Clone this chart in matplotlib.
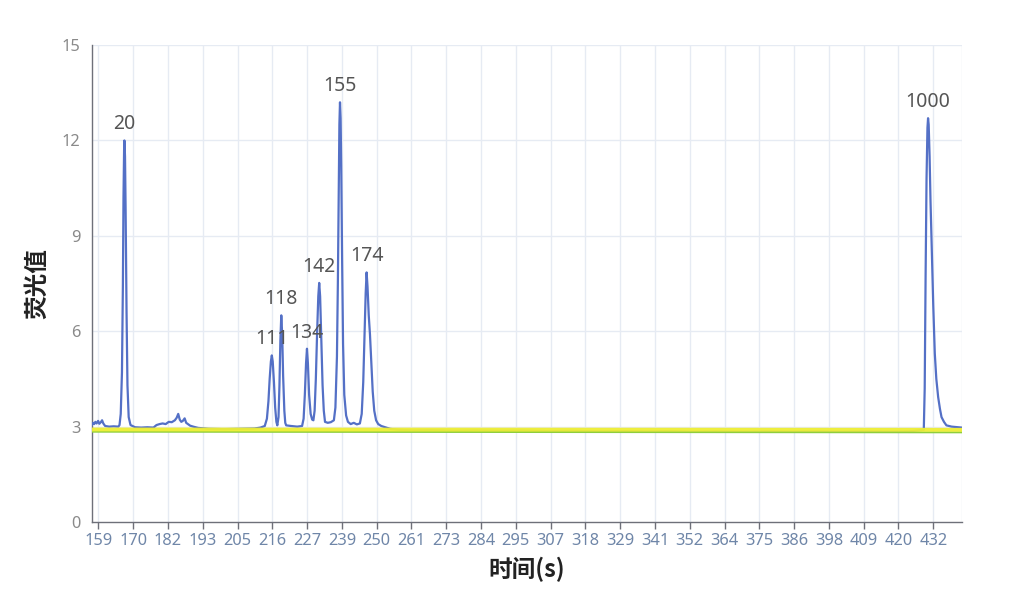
import matplotlib
matplotlib.use("Agg")
import matplotlib.pyplot as plt
import numpy as np

# ---------------- data ----------------
x_tick_labels = ["159", "170", "182", "193", "205", "216", "227", "239", "250", "261",
                 "273", "284", "295", "307", "318", "329", "341", "352", "364", "375",
                 "386", "398", "409", "420", "432"]
x_first_tick = 159.0
x_last_tick = 432.0
x_min, x_max = 156.8, 441.3
y_ticks = [0, 3, 6, 9, 12, 15]

signal_time = [
    156.8, 157.2, 157.6, 158.0, 158.4, 158.9, 159.3, 159.8, 160.2, 160.6,
    161.2, 162.5, 164.0, 165.5, 165.9, 166.3, 166.7, 167.0, 167.2, 167.4,
    167.5, 167.7, 167.9, 168.2, 168.5, 168.9, 169.5, 171.0, 173.0, 175.0,
    177.0, 178.0, 179.0, 180.0, 181.0, 182.0, 183.0, 184.0, 184.6, 185.1,
    185.6, 186.1, 186.6, 187.2, 187.7, 188.3, 189.0, 190.0, 191.6, 195.0,
    200.0, 205.0, 210.0, 212.0, 213.4, 214.1, 214.6, 215.0, 215.4, 215.7,
    216.0, 216.4, 216.8, 217.2, 217.5, 217.9, 218.2, 218.5, 218.8, 219.1,
    219.4, 219.8, 220.1, 220.4, 222.0, 224.0, 225.6, 226.1, 226.5, 226.9,
    227.2, 227.5, 227.9, 228.4, 228.9, 229.3, 229.7, 230.1, 230.5, 230.9,
    231.2, 231.5, 231.9, 232.3, 232.7, 233.1, 234.0, 235.0, 236.0, 236.5,
    237.0, 237.3, 237.6, 237.8, 238.0, 238.2, 238.4, 238.7, 239.0, 239.4,
    240.0, 240.6, 241.5, 242.5, 243.5, 244.5, 245.1, 245.6, 246.0, 246.4,
    246.7, 247.0, 247.4, 247.8, 248.2, 248.7, 249.2, 249.8, 250.5, 251.5,
    252.8, 254.4, 257.0, 262.0, 268.0, 275.0, 282.0, 290.0, 298.0, 306.0,
    314.0, 322.0, 330.0, 338.0, 346.0, 354.0, 362.0, 370.0, 378.0, 386.0,
    394.0, 402.0, 410.0, 418.0, 424.0, 428.9, 429.2, 429.5, 429.8, 430.1,
    430.3, 430.5, 430.8, 431.1, 431.5, 432.0, 432.5, 433.0, 433.6, 434.2,
    434.7, 435.5, 436.3, 438.0, 440.0, 441.3,
]
signal_value = [
    3.05, 3.12, 3.08, 3.15, 3.10, 3.18, 3.09, 3.14, 3.20, 3.10,
    3.02, 3.00, 3.01, 3.00, 3.05, 3.40, 4.70, 7.40, 10.20, 11.70,
    12.00, 11.50, 9.80, 6.60, 4.30, 3.30, 3.05, 2.98, 2.97, 2.98,
    2.97, 3.05, 3.08, 3.10, 3.08, 3.15, 3.14, 3.20, 3.28, 3.40,
    3.22, 3.15, 3.18, 3.26, 3.12, 3.08, 3.03, 3.00, 2.96, 2.93,
    2.92, 2.93, 2.94, 2.97, 3.02, 3.25, 3.80, 4.50, 5.05, 5.24,
    5.05, 4.40, 3.60, 3.15, 3.04, 3.30, 4.30, 5.70, 6.50, 5.90,
    4.60, 3.50, 3.12, 3.04, 3.02, 3.00, 3.02, 3.25, 4.00, 5.00,
    5.45, 5.00, 4.00, 3.40, 3.22, 3.20, 3.50, 4.50, 5.90, 7.10,
    7.52, 7.10, 5.70, 4.30, 3.50, 3.15, 3.12, 3.14, 3.20, 3.60,
    5.20, 7.50, 10.60, 12.50, 13.20, 12.70, 11.20, 8.20, 5.60, 4.00,
    3.35, 3.15, 3.08, 3.12, 3.07, 3.10, 3.40, 4.40, 5.80, 7.20,
    7.85, 7.40, 6.50, 5.90, 5.10, 4.10, 3.50, 3.20, 3.08, 3.02,
    2.98, 2.93, 2.90, 2.88, 2.89, 2.87, 2.88, 2.87, 2.88, 2.86,
    2.87, 2.85, 2.86, 2.85, 2.86, 2.84, 2.85, 2.84, 2.85, 2.84,
    2.85, 2.84, 2.85, 2.84, 2.85, 2.90, 4.20, 7.80, 10.80, 12.40,
    12.70, 12.50, 11.50, 10.10, 8.60, 6.80, 5.30, 4.50, 3.93, 3.55,
    3.30, 3.15, 3.04, 3.00, 2.98, 2.97,
]

peak_labels = ["20", "111", "118", "134", "142", "155", "174", "1000"]
peak_time = [167.5, 215.7, 218.8, 227.2, 231.2, 238.0, 246.7, 430.3]
peak_value = [12.00, 5.24, 6.50, 5.45, 7.52, 13.20, 7.85, 12.70]

threshold_time = [156.8, 441.3]
threshold_value = [2.91, 2.90]
baseline_time = [156.8, 441.3]
baseline_value = [2.84, 2.82]

# ---------------- figure ----------------
fig = plt.figure(figsize=(10.29, 5.93), dpi=100)
ax = fig.add_axes([0.0891, 0.1197, 0.9346 - 0.0891, 0.924 - 0.1197])

grid_c = "#e6ebf3"
axis_c = "#6e7079"

ax.plot(signal_time, signal_value, color="#5470c6", lw=1.6, zorder=3,
        solid_joinstyle="round")
ax.plot(baseline_time, baseline_value, color="#8fce3c", lw=1.4, zorder=4)
ax.plot(threshold_time, threshold_value, color="#eeee33", lw=2.8, zorder=5, alpha=0.95)

for lab, t, v in zip(peak_labels, peak_time, peak_value):
    ax.annotate(lab, (t, v), xytext=(0, 11.5), textcoords="offset points",
                ha="center", va="center", fontsize=14, color="#555555",
                family=["Noto Sans", "DejaVu Sans"], zorder=6)

xt = np.linspace(x_first_tick, x_last_tick, len(x_tick_labels))
ax.set_xticks(xt)
ax.set_xticklabels(x_tick_labels, family=["Noto Sans", "DejaVu Sans"],
                   fontsize=11.8, color="#6f86a8")
ax.set_yticks(y_ticks)
ax.set_yticklabels([str(v) for v in y_ticks], family=["Noto Sans", "DejaVu Sans"],
                   fontsize=11.8, color="#8a8a8a")
ax.set_xlim(x_min, x_max)
ax.set_ylim(0, 15)

ax.tick_params(axis="x", length=5, width=1, color=axis_c, pad=3)
ax.tick_params(axis="y", length=0, pad=8)

for v in xt:
    ax.axvline(v, color=grid_c, lw=1, zorder=0)
ax.axvline(x_max, color=grid_c, lw=1, zorder=0)
for v in y_ticks[1:]:
    ax.axhline(v, color=grid_c, lw=1, zorder=0)

for s in ["top", "right"]:
    ax.spines[s].set_visible(False)
ax.spines["left"].set_color(axis_c)
ax.spines["bottom"].set_color(axis_c)
ax.spines["left"].set_linewidth(1)
ax.spines["bottom"].set_linewidth(1)

fig.text(0.0365, 0.522, "荧光值", rotation=90, ha="center", va="center",
         fontsize=17, fontweight="bold", color="#222222",
         family=["Noto Sans CJK SC", "DejaVu Sans"])
fig.text(0.512, 0.040, "时间(s)", ha="center", va="center",
         fontsize=17, fontweight="bold", color="#222222",
         family=["Noto Sans CJK SC", "DejaVu Sans"])

fig.savefig("out.png", dpi=100, facecolor="white")
